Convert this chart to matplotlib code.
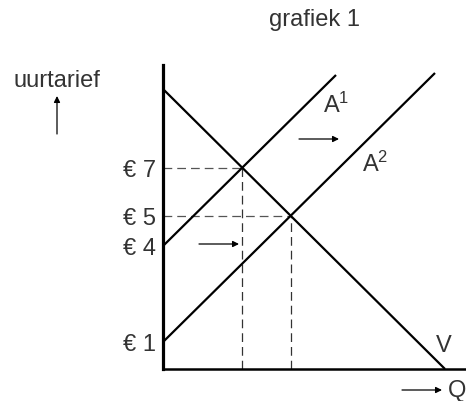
import matplotlib
matplotlib.use("Agg")
import matplotlib.pyplot as plt

plt.rcParams["font.family"] = ["Liberation Sans", "DejaVu Sans"]
plt.rcParams["mathtext.fontset"] = "custom"
plt.rcParams["mathtext.rm"] = "Liberation Sans"
plt.rcParams["mathtext.it"] = "Liberation Sans"

TEXT = "#333333"

# Diagram (not to scale): quantity / price positions in drawing units
demand_q = [0.0, 28.2]
demand_p = [28.0, 0.0]
supply1_q = [0.0, 17.3]
supply1_p = [12.3, 29.4]
supply2_q = [0.0, 27.2]
supply2_p = [2.7, 29.6]

# price labels: A1 intercept, A2 intercept, A1 x V, A2 x V
label_intercept1 = "€ 4"
label_intercept2 = "€ 1"
label_eq1 = "€ 7"
label_eq2 = "€ 5"


def intersect(q1, p1, q2, p2):
    s1 = (p1[1] - p1[0]) / (q1[1] - q1[0])
    s2 = (p2[1] - p2[0]) / (q2[1] - q2[0])
    b1 = p1[0] - s1 * q1[0]
    b2 = p2[0] - s2 * q2[0]
    q = (b2 - b1) / (s1 - s2)
    return q, b1 + s1 * q


eq1 = intersect(supply1_q, supply1_p, demand_q, demand_p)
eq2 = intersect(supply2_q, supply2_p, demand_q, demand_p)

fig = plt.figure(figsize=(4.66, 4.02), dpi=100)
ax = fig.add_axes([163 / 466, 32 / 402, 303 / 466, 304 / 402])
ax.set_xlim(0, 30.3)
ax.set_ylim(0, 30.4)

# dashed guide lines
for q, p in (eq1, eq2):
    ax.plot([0, q], [p, p], color="#555555", lw=0.9, dashes=(7, 4))
    ax.plot([q, q], [0, p], color="#333333", lw=0.9, dashes=(7, 4))

ax.plot(demand_q, demand_p, color="black", lw=1.6, solid_capstyle="butt")
ax.plot(supply1_q, supply1_p, color="black", lw=1.6, solid_capstyle="butt")
ax.plot(supply2_q, supply2_p, color="black", lw=1.6, solid_capstyle="butt")

for side in ("top", "right"):
    ax.spines[side].set_visible(False)
ax.spines["left"].set_linewidth(2.3)
ax.spines["bottom"].set_linewidth(1.8)

ax.set_xticks([])
ax.set_yticks([supply2_p[0], supply1_p[0], eq2[1], eq1[1]],
              [label_intercept2, label_intercept1, label_eq2, label_eq1])
ax.tick_params(axis="y", length=0, pad=5, labelsize=17, labelcolor=TEXT)

ax.set_title("grafiek 1", fontsize=17, color=TEXT, pad=29)

# curve labels
ax.text(16.0, 25.7, "A$^1$", fontsize=17, color=TEXT, va="baseline")
ax.text(19.9, 19.8, "A$^2$", fontsize=17, color=TEXT, va="baseline")
ax.text(27.3, 1.8, "V", fontsize=17, color=TEXT, va="baseline")

arrow = dict(arrowstyle="-|>", color="black", lw=0.9, mutation_scale=9,
             shrinkA=0, shrinkB=0)
# shift arrows
ax.annotate("", xy=(17.6, 23.0), xytext=(13.6, 23.0), arrowprops=arrow)
ax.annotate("", xy=(7.6, 12.5), xytext=(3.6, 12.5), arrowprops=arrow)

# axis captions
ax.annotate("", xy=(27.9, -2.1), xytext=(23.9, -2.1), arrowprops=arrow,
            annotation_clip=False)
ax.text(28.5, -2.1, "Q", fontsize=17, color=TEXT, va="center", ha="left",
        clip_on=False)
ax.annotate("", xy=(-10.6, 27.3), xytext=(-10.6, 23.5), arrowprops=arrow,
            annotation_clip=False)
ax.text(-10.6, 28.3, "uurtarief", fontsize=17, color=TEXT, va="baseline",
        ha="center", clip_on=False)

fig.savefig("out.png", dpi=100, facecolor="white")
